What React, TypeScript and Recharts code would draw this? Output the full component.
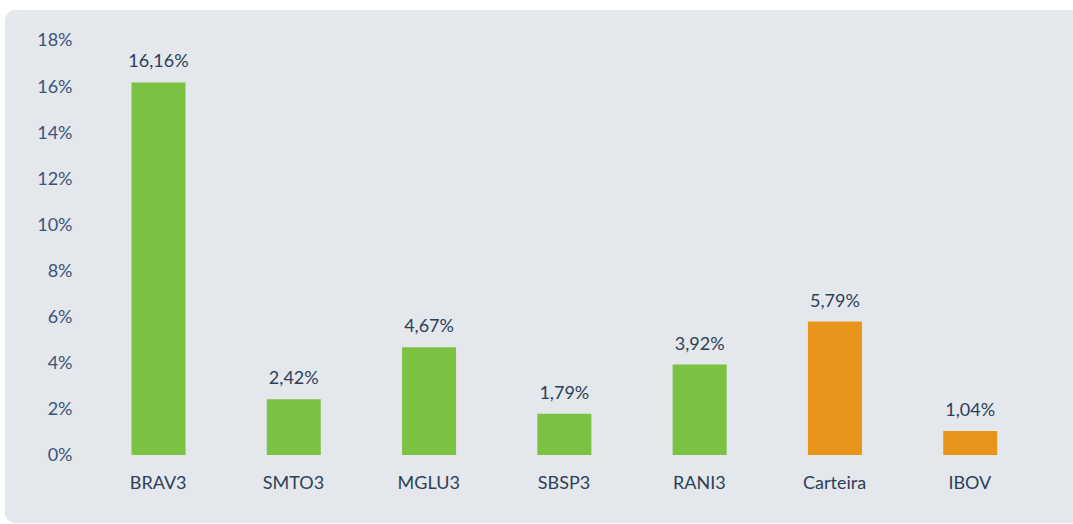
import React from "react";
import { BarChart, Bar, XAxis, YAxis, Cell, LabelList } from "recharts";

const categories = ["BRAV3", "SMTO3", "MGLU3", "SBSP3", "RANI3", "Carteira", "IBOV"];
const returns = [16.16, 2.42, 4.67, 1.79, 3.92, 5.79, 1.04];
const kinds = ["stock", "stock", "stock", "stock", "stock", "benchmark", "benchmark"];
const yTicks = [0, 2, 4, 6, 8, 10, 12, 14, 16, 18];

const GREEN = "#7cc242";
const ORANGE = "#e8951b";
const FONT = "Lato, 'Open Sans', sans-serif";

const data = categories.map((name, i) => ({ name, value: returns[i], kind: kinds[i] }));

const fmt = (v: number) => v.toFixed(2).replace(".", ",") + "%";

export default function App() {
  return (
    <div style={{ position: "absolute", left: 0, top: 0, width: 1073, height: 524, overflow: "hidden", fontFamily: FONT }}>
      <div
        style={{
          position: "absolute",
          left: 5,
          top: 10,
          width: 1090,
          height: 513,
          background: "#e4e7ec",
          borderRadius: 10,
        }}
      />
      <div style={{ position: "absolute", left: 0, top: 0 }}>
        <BarChart
          width={1073}
          height={524}
          data={data}
          margin={{ top: 40, right: 35.5, bottom: 39, left: 0 }}
          barCategoryGap="30%"
        >
          <XAxis
            dataKey="name"
            height={30}
            axisLine={false}
            tickLine={false}
            tickSize={0}
            tickMargin={21}
            interval={0}
            tick={{ fill: "#2d3f58", fontSize: 18, fontFamily: FONT }}
          />
          <YAxis
            width={90.5}
            domain={[0, 18]}
            ticks={yTicks}
            interval={0}
            axisLine={false}
            tickLine={false}
            tickSize={0}
            tickMargin={18}
            tickFormatter={(v: number) => `${v}%`}
            tick={{ fill: "#3b5479", fontSize: 18, fontFamily: FONT }}
          />
          <Bar dataKey="value" barSize={54} isAnimationActive={false}>
            {data.map((d, i) => (
              <Cell key={i} fill={d.kind === "stock" ? GREEN : ORANGE} />
            ))}
            <LabelList
              dataKey="value"
              position="top"
              offset={15}
              formatter={(v: number) => fmt(v)}
              style={{ fill: "#2d3f58", fontSize: 18, fontFamily: FONT }}
            />
          </Bar>
        </BarChart>
      </div>
    </div>
  );
}
